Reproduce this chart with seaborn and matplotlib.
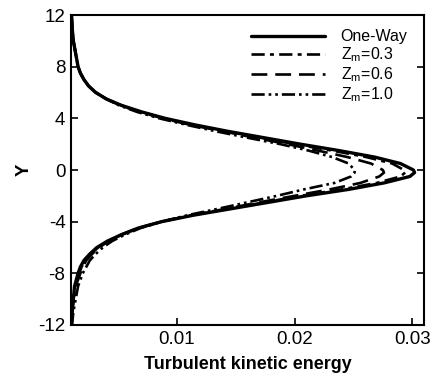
import matplotlib
matplotlib.use("Agg")
import matplotlib.pyplot as plt
import seaborn as sns
import numpy as np
import pandas as pd

# Y positions (vertical coordinate)
y_vals = [12, 11, 10, 9, 8, 7.5, 7, 6.5, 6, 5.5, 5, 4.5, 4, 3.5, 3, 2.5, 2, 1.5, 1,
          0.5, 0, -0.2, -0.5, -1, -1.5, -2, -2.5, -3, -3.5, -4, -4.5, -5, -5.5,
          -6, -6.5, -7, -7.5, -8, -9, -10, -11, -12]

# Turbulent kinetic energy for each case
one_way = [0.00105, 0.0011, 0.0012, 0.0014, 0.0016, 0.0018, 0.0021, 0.0025, 0.0031,
           0.0040, 0.0053, 0.0070, 0.0090, 0.0115, 0.0143, 0.0174, 0.0205, 0.0238,
           0.0268, 0.0290, 0.0301, 0.0302, 0.0298, 0.0276, 0.0246, 0.0210, 0.0178,
           0.0146, 0.0114, 0.0087, 0.0067, 0.0053, 0.0041, 0.0032, 0.0026, 0.0021,
           0.0018, 0.0016, 0.0013, 0.0012, 0.0011, 0.00105]
zm03 = [0.00105, 0.0011, 0.0012, 0.0014, 0.0016, 0.0018, 0.0021, 0.0025, 0.0031,
        0.0040, 0.0053, 0.0069, 0.0089, 0.0113, 0.0141, 0.0171, 0.0200, 0.0232,
        0.0261, 0.0283, 0.0293, 0.0294, 0.0290, 0.0270, 0.0240, 0.0205, 0.0175,
        0.0144, 0.0113, 0.0087, 0.0067, 0.0053, 0.0042, 0.0033, 0.0027, 0.0022,
        0.0019, 0.0017, 0.0014, 0.0012, 0.0011, 0.00105]
zm06 = [0.00105, 0.0011, 0.0012, 0.0014, 0.0016, 0.0018, 0.0021, 0.0025, 0.0031,
        0.0040, 0.0052, 0.0068, 0.0088, 0.0111, 0.0139, 0.0166, 0.0194, 0.0220,
        0.0245, 0.0265, 0.0275, 0.0276, 0.0272, 0.0256, 0.0230, 0.0200, 0.0170,
        0.0142, 0.0112, 0.0087, 0.0067, 0.0053, 0.0042, 0.0034, 0.0028, 0.0023,
        0.0020, 0.0018, 0.0014, 0.0012, 0.0011, 0.00105]
zm10 = [0.00105, 0.0011, 0.0012, 0.0014, 0.0016, 0.0018, 0.0021, 0.0025, 0.0031,
        0.0040, 0.0051, 0.0066, 0.0085, 0.0108, 0.0133, 0.0160, 0.0188, 0.0212,
        0.0232, 0.0246, 0.0251, 0.0251, 0.0248, 0.0234, 0.0208, 0.0185, 0.0160,
        0.0135, 0.0109, 0.0087, 0.0069, 0.0056, 0.0045, 0.0037, 0.0031, 0.0026,
        0.0023, 0.0020, 0.0016, 0.0014, 0.0012, 0.00108]

labels = ["One-Way", "Z$_{\\rm m}$=0.3", "Z$_{\\rm m}$=0.6", "Z$_{\\rm m}$=1.0"]
x_ticks = [0.01, 0.02, 0.03]
x_tick_labels = ["0.01", "0.02", "0.03"]
y_ticks = [12, 8, 4, 0, -4, -8, -12]
y_tick_labels = ["12", "8", "4", "0", "-4", "-8", "-12"]

sns.set_style("ticks")
plt.rcParams["font.family"] = ["Liberation Sans", "DejaVu Sans"]
plt.rcParams["axes.unicode_minus"] = False
plt.rcParams["mathtext.fontset"] = "custom"
plt.rcParams["mathtext.rm"] = "Liberation Sans"
plt.rcParams["text.color"] = "black"
plt.rcParams["axes.labelcolor"] = "black"
plt.rcParams["xtick.color"] = "black"
plt.rcParams["ytick.color"] = "black"

fig = plt.figure(figsize=(4.34, 3.79), dpi=100)
ax = fig.add_axes([0.1636, 0.1425, 0.977 - 0.1636, 0.9604 - 0.1425])

series = [one_way, zm03, zm06, zm10]
styles = ["-", (0, (5, 2, 1.5, 2)), (0, (6, 3)), (0, (5, 1.5, 1, 1.5, 1, 1.5))]
widths = [2.4, 1.9, 1.9, 1.9]
for vals, lab, ls, lw in zip(series, labels, styles, widths):
    df = pd.DataFrame({"k": vals, "Y": y_vals})
    sns.lineplot(data=df, x="k", y="Y", sort=False, estimator=None,
                 color="black", linestyle=ls, linewidth=lw, label=lab, ax=ax)

ax.set_xlim(0.001, 0.031)
ax.set_ylim(-12, 12)
ax.set_xticks(x_ticks)
ax.set_xticklabels(x_tick_labels)
ax.set_yticks(y_ticks)
ax.set_yticklabels(y_tick_labels)
ax.tick_params(direction="in", length=5, width=1.2, labelsize=13.5, right=True,
               pad=4, colors="black")
for s in ax.spines.values():
    s.set_linewidth(1.5)
    s.set_color("black")

ax.set_xlabel("Turbulent kinetic energy", fontsize=13, fontweight="bold",
              labelpad=6)
ax.set_ylabel("Y", fontsize=13.5, fontweight="bold", labelpad=4)

leg = ax.legend(loc="upper right", frameon=False, fontsize=11.5,
                handlelength=4.6, handletextpad=1.0, labelspacing=0.08,
                borderaxespad=0.3, bbox_to_anchor=(0.985, 0.99))

fig.savefig("out.png", dpi=100)
